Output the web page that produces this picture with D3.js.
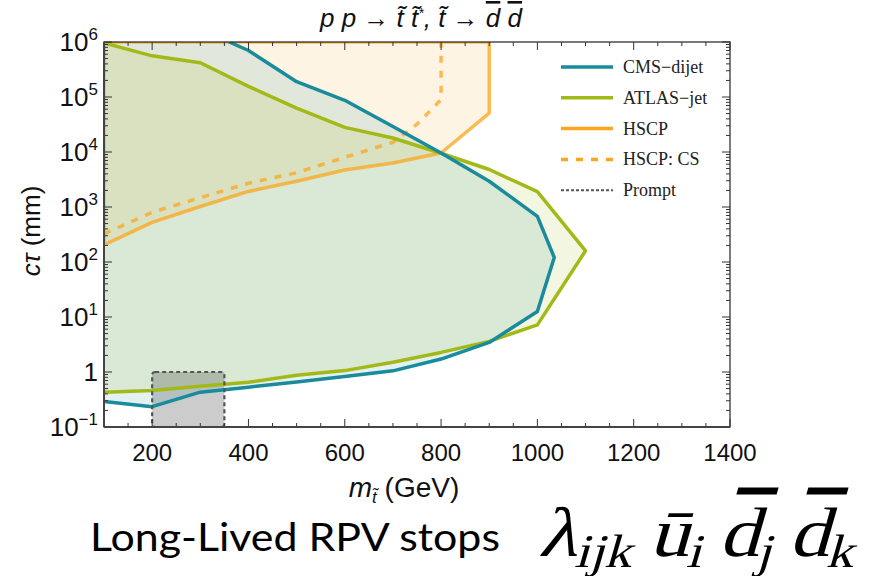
<!DOCTYPE html>
<html>
<head>
<meta charset="utf-8">
<script src="https://cdn.jsdelivr.net/npm/d3@7"></script>
<style>
  body { margin: 0; background: #fff; }
  svg { display: block; }
  .ovl { text-decoration: overline; text-decoration-thickness: 2px; }
</style>
</head>
<body>
<svg id="chart" width="871" height="576"></svg>
<script>
// ---- Exclusion contours: stop mass (GeV) vs proper decay length c*tau (mm) ----
// CMS dijet: lower branch, turnaround near 1 TeV, upper branch up to the top edge
const cmsMass = [100, 200, 300, 400, 500, 600, 700, 800, 900, 1000, 1035, 1000, 900, 800, 700, 600, 500, 400, 360];
const cmsCtau = [0.29, 0.234, 0.43, 0.53, 0.66, 0.83, 1.05, 1.72, 3.45, 12.6, 121, 676, 2940, 9600, 2.9e4, 8.7e4, 1.9e5, 7.0e5, 1.0e6];

// ATLAS jet search
const atlasMass = [100, 200, 300, 400, 500, 600, 700, 800, 900, 1000, 1100, 1000, 900, 800, 700, 600, 500, 400, 300, 200, 100];
const atlasCtau = [0.43, 0.46, 0.55, 0.65, 0.87, 1.06, 1.5, 2.27, 3.6, 7.2, 160, 1900, 4800, 9500, 1.8e4, 2.8e4, 6.3e4, 1.56e5, 4.2e5, 5.6e5, 9.6e5];

// Heavy stable charged particle search (region above the curve)
const hscpMass = [100, 200, 300, 400, 500, 600, 700, 800, 900, 900];
const hscpCtau = [205, 525, 1020, 1920, 2930, 4700, 6300, 9600, 5.1e4, 1.0e6];

// HSCP with colour-singlet hadronisation
const hscpCsMass = [100, 200, 300, 400, 500, 600, 700, 750, 800, 800];
const hscpCsCtau = [325, 800, 1480, 2700, 4200, 8000, 1.5e4, 3.2e4, 9.0e4, 1.0e6];

// Prompt search box
const promptMass = [200, 350];
const promptCtau = [0.1, 1];

// Axis ticks
const xTickValues = [200, 400, 600, 800, 1000, 1200, 1400];
const xTickLabels = ["200", "400", "600", "800", "1000", "1200", "1400"];
const yTickExponents = [-1, 0, 1, 2, 3, 4, 5, 6];

// Legend entries
const legendLabels = ["CMS\u2212dijet", "ATLAS\u2212jet", "HSCP", "HSCP: CS", "Prompt"];

const colors = {
  cms: "#1a8b9b",
  atlas: "#a2b917",
  hscp: "#faa61f",
  prompt: "#555555"
};

const svg = d3.select("#chart");
svg.append("rect").attr("width", 871).attr("height", 576).attr("fill", "#fff");

const x = d3.scaleLinear().domain([100, 1400]).range([104, 730]);
const y = d3.scaleLog().domain([0.1, 1e6]).range([427, 42]);
const [x0, x1] = x.range();
const [y0, y1] = y.range();

svg.append("defs").append("clipPath").attr("id", "plotClip")
  .append("rect").attr("x", x0).attr("y", y1).attr("width", x1 - x0).attr("height", y0 - y1);

const plot = svg.append("g").attr("clip-path", "url(#plotClip)");

const zip = (ms, cs) => ms.map((m, i) => [m, cs[i]]);
const line = d3.line().x(d => x(d[0])).y(d => y(d[1]));

const xMin = x.domain()[0];
const yMax = y.domain()[1];

// filled regions
const cmsPts = zip(cmsMass, cmsCtau);
const atlasPts = zip(atlasMass, atlasCtau);
const hscpPts = zip(hscpMass, hscpCtau);

plot.append("path")
  .attr("d", line(hscpPts.concat([[xMin, yMax]])) + "Z")
  .attr("fill", colors.hscp).attr("fill-opacity", 0.12);

plot.append("path")
  .attr("d", line(cmsPts.concat([[xMin, yMax]])) + "Z")
  .attr("fill", colors.cms).attr("fill-opacity", 0.12);

plot.append("path")
  .attr("d", line(atlasPts) + "Z")
  .attr("fill", colors.atlas).attr("fill-opacity", 0.13);

// prompt box fill
plot.append("rect")
  .attr("x", x(promptMass[0])).attr("y", y(promptCtau[1]))
  .attr("width", x(promptMass[1]) - x(promptMass[0]))
  .attr("height", y(promptCtau[0]) - y(promptCtau[1]))
  .attr("fill", "#000").attr("fill-opacity", 0.2);

// contour lines
plot.append("path")
  .attr("d", line(hscpPts.concat([[xMin, yMax]])) + "Z")
  .attr("fill", "none").attr("stroke", colors.hscp).attr("stroke-opacity", 0.75)
  .attr("stroke-width", 3.5).attr("stroke-linejoin", "round");

plot.append("path")
  .attr("d", line(zip(hscpCsMass, hscpCsCtau)))
  .attr("fill", "none").attr("stroke", colors.hscp).attr("stroke-opacity", 0.75)
  .attr("stroke-width", 3.5).attr("stroke-dasharray", "7,8");

plot.append("path")
  .attr("d", line(atlasPts))
  .attr("fill", "none").attr("stroke", colors.atlas)
  .attr("stroke-width", 3.5).attr("stroke-linejoin", "round");

plot.append("path")
  .attr("d", line(cmsPts))
  .attr("fill", "none").attr("stroke", colors.cms)
  .attr("stroke-width", 3.5).attr("stroke-linejoin", "round");

// prompt box outline
svg.append("rect")
  .attr("x", x(promptMass[0])).attr("y", y(promptCtau[1]))
  .attr("width", x(promptMass[1]) - x(promptMass[0]))
  .attr("height", y(promptCtau[0]) - y(promptCtau[1]))
  .attr("rx", 3)
  .attr("fill", "none").attr("stroke", colors.prompt)
  .attr("stroke-width", 2.2).attr("stroke-dasharray", "4,3");

// ---- frame and ticks ----
const frame = svg.append("g");
const xMinor = d3.range(100, 1401, 50);
const yMinor = y.ticks(70);

frame.append("rect")
  .attr("x", x0).attr("y", y1).attr("width", x1 - x0).attr("height", y0 - y1)
  .attr("fill", "none").attr("stroke", "#222").attr("stroke-width", 1.2);

// x ticks bottom and top, pointing inward
xMinor.forEach(v => {
  const len = xTickValues.includes(v) ? 8 : 4;
  frame.append("line").attr("x1", x(v)).attr("x2", x(v)).attr("y1", y0).attr("y2", y0 - len)
    .attr("stroke", "#333").attr("stroke-width", 1);
  frame.append("line").attr("x1", x(v)).attr("x2", x(v)).attr("y1", y1).attr("y2", y1 + len)
    .attr("stroke", "#333").attr("stroke-width", 1);
});

// y ticks left and right, pointing inward
yMinor.forEach(v => {
  const isMajor = Math.abs(Math.log10(v) - Math.round(Math.log10(v))) < 1e-9;
  const len = isMajor ? 8 : 4;
  frame.append("line").attr("x1", x0).attr("x2", x0 + len).attr("y1", y(v)).attr("y2", y(v))
    .attr("stroke", "#333").attr("stroke-width", 1);
  frame.append("line").attr("x1", x1).attr("x2", x1 - len).attr("y1", y(v)).attr("y2", y(v))
    .attr("stroke", "#333").attr("stroke-width", 1);
});

// bottom/left axis lines slightly heavier
frame.append("line").attr("x1", x0).attr("x2", x1).attr("y1", y0).attr("y2", y0)
  .attr("stroke", "#444").attr("stroke-width", 2);
frame.append("line").attr("x1", x0).attr("x2", x0).attr("y1", y0).attr("y2", y1)
  .attr("stroke", "#444").attr("stroke-width", 2);

const sans = "'Liberation Sans', Arial, Helvetica, sans-serif";

// x tick labels
xTickValues.forEach((v, i) => {
  svg.append("text").attr("x", x(v)).attr("y", 461)
    .attr("text-anchor", "middle").attr("font-family", sans).attr("font-size", 24)
    .attr("fill", "#111").text(xTickLabels[i]);
});

// y tick labels
yTickExponents.forEach(e => {
  const t = svg.append("text").attr("x", 98).attr("y", y(Math.pow(10, e)) + 9)
    .attr("text-anchor", "end").attr("font-family", sans).attr("font-size", 26).attr("fill", "#111");
  if (e === 0) {
    t.text("1");
  } else {
    t.append("tspan").text("10");
    t.append("tspan").attr("dy", -11).attr("font-size", 17)
      .text(e < 0 ? "\u2212" + Math.abs(e) : String(e));
  }
});

// axis titles
const yTitle = svg.append("text")
  .attr("transform", "translate(40,231) rotate(-90)")
  .attr("text-anchor", "middle").attr("font-family", sans).attr("font-size", 26).attr("fill", "#111");
yTitle.append("tspan").attr("font-style", "italic").text("c\u03C4");
yTitle.append("tspan").text(" (mm)");

const xTitle = svg.append("text").attr("x", 404).attr("y", 497)
  .attr("text-anchor", "middle").attr("font-family", sans).attr("font-size", 28).attr("fill", "#111");
xTitle.append("tspan").attr("font-style", "italic").text("m");
xTitle.append("tspan").attr("font-style", "italic").attr("font-size", 17).attr("dy", 6).text("t\u0303");
xTitle.append("tspan").attr("dy", -6).text(" (GeV)");

// plot title
const title = svg.append("text").attr("x", 421).attr("y", 27)
  .attr("text-anchor", "middle").attr("font-family", sans).attr("font-size", 26)
  .attr("font-style", "italic").attr("fill", "#111");
title.append("tspan").text("p p \u2192 t\u0303 t\u0303");
title.append("tspan").attr("dy", -9).attr("font-size", 14).text("*");
title.append("tspan").attr("dy", 9).text(",  t\u0303 \u2192 ");
title.append("tspan").attr("class", "ovl").text("d");
title.append("tspan").text(" ");
title.append("tspan").attr("class", "ovl").text("d");

// ---- legend ----
const legend = svg.append("g");
const legendStyles = [
  { stroke: colors.cms, dash: null, w: 3.5 },
  { stroke: colors.atlas, dash: null, w: 3.5 },
  { stroke: colors.hscp, dash: null, w: 3.5 },
  { stroke: colors.hscp, dash: "7,8", w: 3.5 },
  { stroke: colors.prompt, dash: "3,2", w: 2 }
];
legendLabels.forEach((lab, i) => {
  const ly = 67 + i * 30.8;
  const st = legendStyles[i];
  legend.append("line").attr("x1", 561).attr("x2", 613).attr("y1", ly).attr("y2", ly)
    .attr("stroke", st.stroke).attr("stroke-width", st.w)
    .attr("stroke-dasharray", st.dash);
  legend.append("text").attr("x", 623).attr("y", ly + 6)
    .attr("font-family", "'Liberation Serif', 'Times New Roman', serif").attr("font-size", 18)
    .attr("fill", "#222").text(lab);
});

// ---- caption below the chart ----
svg.append("text").attr("x", 90).attr("y", 551)
  .attr("font-family", "Lato, 'Open Sans', sans-serif").attr("font-size", 38)
  .attr("fill", "#000").attr("textLength", 410).attr("lengthAdjust", "spacingAndGlyphs")
  .text("Long-Lived RPV stops");

// operator in slanted serif: upright glyphs widened and sheared about the baseline
const serif = "'Liberation Serif', 'Times New Roman', serif";
const opScaleX = 1.15;
const op = svg.append("text")
  .attr("transform", `translate(538,556) scale(${opScaleX},1) skewX(-14)`)
  .attr("font-family", serif).attr("font-size", 70).attr("fill", "#000");
op.append("tspan").text("\u03BB");
op.append("tspan").attr("font-size", 47).attr("dy", 11).text("ijk");
const gapU = op.append("tspan").attr("dy", -11).text("\u016B");
op.append("tspan").attr("font-size", 47).attr("dy", 11).text("i");
const gapD1 = op.append("tspan").attr("dy", -11).attr("class", "ovl").text("d");
op.append("tspan").attr("font-size", 47).attr("dy", 11).text("j");
const gapD2 = op.append("tspan").attr("dy", -11).attr("class", "ovl").text("d");
op.append("tspan").attr("font-size", 47).attr("dy", 11).text("k");

// spread the three factors over the available width
const opWidth = 318 / opScaleX;
const natural = op.node().getComputedTextLength();
const gap = Math.max(0, (opWidth - natural) / 3);
[gapU, gapD1, gapD2].forEach(t => t.attr("dx", gap));
</script>
</body>
</html>
